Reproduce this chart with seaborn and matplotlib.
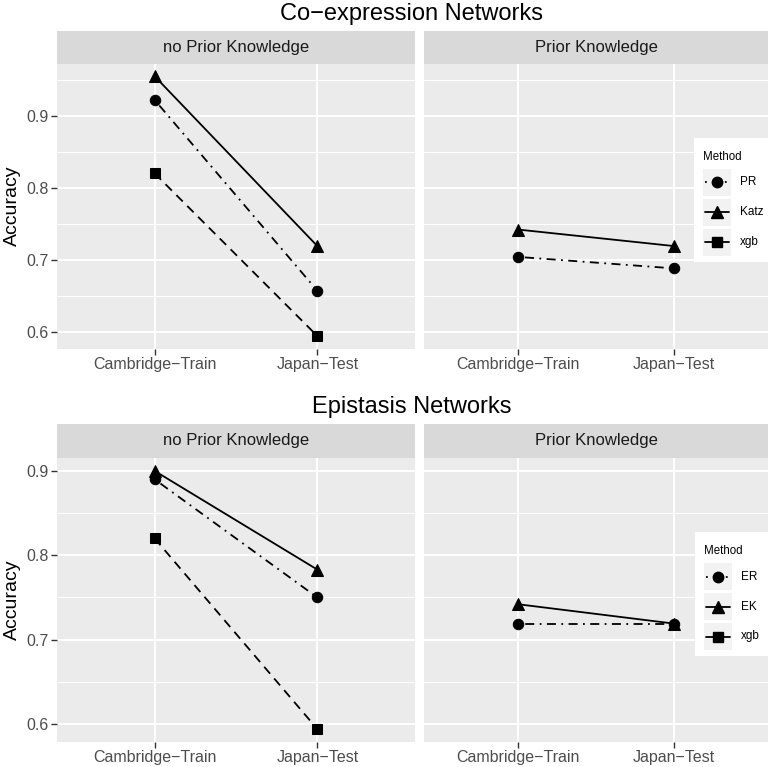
import numpy as np
import pandas as pd
import matplotlib
matplotlib.use("Agg")
import matplotlib.pyplot as plt
from matplotlib.lines import Line2D
from matplotlib.patches import Rectangle
import seaborn as sns

sns.set_theme(style="darkgrid")
plt.rcParams['font.family'] = ['Liberation Sans', 'DejaVu Sans']

# ---------------- data ----------------
datasets = ["Cambridge\u2212Train", "Japan\u2212Test"]

coexp_methods = ["PR", "Katz", "xgb"]
coexp_noprior_PR = [0.922, 0.657]
coexp_noprior_Katz = [0.955, 0.719]
coexp_noprior_xgb = [0.820, 0.594]
coexp_prior_PR = [0.704, 0.688]
coexp_prior_Katz = [0.742, 0.719]

epi_methods = ["ER", "EK", "xgb"]
epi_noprior_ER = [0.890, 0.750]
epi_noprior_EK = [0.900, 0.783]
epi_noprior_xgb = [0.820, 0.594]
epi_prior_ER = [0.719, 0.719]
epi_prior_EK = [0.742, 0.719]

facet_labels = ["no Prior Knowledge", "Prior Knowledge"]
row_titles = ["Co\u2212expression Networks", "Epistasis Networks"]
y_ticks = [0.6, 0.7, 0.8, 0.9]
y_tick_labels = ["0.6", "0.7", "0.8", "0.9"]

# ---------------- styles ----------------
W, H = 768, 767
DPI = 100
LW = 1.3
style_solid = dict(linestyle="-")
style_dotdash = dict(dashes=(1, 3, 5, 3))
style_dashed = dict(dashes=(5, 3.5))
markers = {"circle": ("o", 7.5), "tri": ("^", 9), "sq": ("s", 7)}

PANEL_BG = "#EBEBEB"
STRIP_BG = "#D9D9D9"
TICK_COL = "#4D4D4D"

fig = plt.figure(figsize=(W / DPI, H / DPI), dpi=DPI, facecolor="white")


def rect(x0, y0, x1, y1):
    return [x0 / W, 1 - y1 / H, (x1 - x0) / W, (y1 - y0) / H]


def make_df(methods, series):
    rows = []
    for m, vals in zip(methods, series):
        for d, v in zip(datasets, vals):
            rows.append({"Method": m, "Dataset": d, "Accuracy": v})
    return pd.DataFrame(rows)


def draw_panel(ax, df, specs, ylim, minor):
    ax.set_facecolor(PANEL_BG)
    for m, (mk, ls) in specs.items():
        sub = df[df["Method"] == m]
        if sub.empty:
            continue
        marker, ms = markers[mk]
        sns.lineplot(data=sub, x="Dataset", y="Accuracy", ax=ax, color="black",
                     linewidth=LW, marker=marker, markersize=ms,
                     markeredgecolor="black", markerfacecolor="black",
                     sort=False, legend=False, **ls)
    ax.set_xlim(-0.6, 1.6)
    ax.set_ylim(*ylim)
    ax.set_xticks([0, 1])
    ax.set_xticklabels(datasets)
    ax.set_yticks(y_ticks)
    ax.set_yticks(minor, minor=True)
    ax.grid(True, which="major", color="white", linewidth=1.4)
    ax.grid(True, which="minor", axis="y", color="white", linewidth=0.7)
    ax.set_axisbelow(True)
    for s in ax.spines.values():
        s.set_visible(False)
    ax.set_xlabel("")
    ax.set_ylabel("")
    ax.tick_params(axis="both", which="major", length=4, width=1.0,
                   color="#333333", labelcolor=TICK_COL, labelsize=11.5, pad=2,
                   direction="out")
    ax.tick_params(axis="both", which="minor", length=0)
    ax.tick_params(axis="x", bottom=True)
    ax.tick_params(axis="y", left=True)


def draw_strip(x0, x1, y0, y1, text):
    sax = fig.add_axes(rect(x0, y0, x1, y1))
    sax.set_facecolor(STRIP_BG)
    sax.set_xticks([])
    sax.set_yticks([])
    for s in sax.spines.values():
        s.set_visible(False)
    sax.text(0.5, 0.5, text, ha="center", va="center", fontsize=12,
             color="#1A1A1A", transform=sax.transAxes)


def draw_legend(x0, y0, x1, y1, title, methods, specs):
    lax = fig.add_axes(rect(x0, y0, x1, y1))
    lax.set_xlim(x0, x1)
    lax.set_ylim(y1, y0)
    lax.set_facecolor("white")
    lax.set_xticks([])
    lax.set_yticks([])
    lax.grid(False)
    for s in lax.spines.values():
        s.set_visible(False)
    lax.text(x0 + 9, y0 + 19, title, fontsize=8.3, color="black", va="center", ha="left")
    for i, m in enumerate(methods):
        ky0 = y0 + 31 + i * 30
        lax.add_patch(Rectangle((x0 + 9, ky0), 28, 27, facecolor="#F2F2F2",
                                edgecolor="none"))
        yc = ky0 + 13.5
        mk, ls = specs[m]
        marker, ms = markers[mk]
        kw = dict(dashes=(1, 3, 4, 3)) if "dashes" in ls else dict(linestyle="-")
        lax.add_line(Line2D([x0 + 11, x0 + 35], [yc, yc], color="black",
                            linewidth=LW, **kw))
        lax.plot([x0 + 23], [yc], marker=marker, markersize=ms,
                 color="black", linestyle="none")
        lax.text(x0 + 46, yc, m, fontsize=8.5, va="center", ha="left", color="black")


# ---------------- top row ----------------
coexp_specs_left = {"PR": ("circle", style_dotdash), "Katz": ("tri", style_solid),
                    "xgb": ("sq", style_dashed)}
coexp_specs_legend = {"PR": ("circle", style_dotdash), "Katz": ("tri", style_solid),
                      "xgb": ("sq", style_solid)}
df_c_np = make_df(coexp_methods, [coexp_noprior_PR, coexp_noprior_Katz, coexp_noprior_xgb])
df_c_p = make_df(coexp_methods[:2], [coexp_prior_PR, coexp_prior_Katz])

top_ylim = (0.576, 0.972)
top_minor = [0.65, 0.75, 0.85, 0.95]
ax1 = fig.add_axes(rect(57, 64, 415, 349))
draw_panel(ax1, df_c_np, coexp_specs_left, top_ylim, top_minor)
ax2 = fig.add_axes(rect(424, 64, 768, 349))
draw_panel(ax2, df_c_p, coexp_specs_left, top_ylim, top_minor)
ax2.set_yticklabels([])
ax2.tick_params(axis="y", left=False)
ax1.set_yticklabels(y_tick_labels)
draw_strip(57, 415, 31, 64, facet_labels[0])
draw_strip(424, 768, 31, 64, facet_labels[1])
fig.text(412 / W, 1 - 14 / H, row_titles[0], ha="center", va="center", fontsize=17,
         color="black")
fig.text(12 / W, 1 - 206 / H, "Accuracy", rotation=90, ha="center", va="center",
         fontsize=14, color="black")
draw_legend(694, 138, 768, 262, "Method", coexp_methods, coexp_specs_legend)

# ---------------- bottom row ----------------
epi_specs = {"ER": ("circle", style_dotdash), "EK": ("tri", style_solid),
             "xgb": ("sq", style_dashed)}
epi_specs_legend = {"ER": ("circle", style_dotdash), "EK": ("tri", style_solid),
                    "xgb": ("sq", style_solid)}
df_e_np = make_df(epi_methods, [epi_noprior_ER, epi_noprior_EK, epi_noprior_xgb])
df_e_p = make_df(epi_methods[:2], [epi_prior_ER, epi_prior_EK])

bot_ylim = (0.5787, 0.9153)
bot_minor = [0.65, 0.75, 0.85]
ax3 = fig.add_axes(rect(57, 458, 415, 742))
draw_panel(ax3, df_e_np, epi_specs, bot_ylim, bot_minor)
ax4 = fig.add_axes(rect(424, 458, 768, 742))
draw_panel(ax4, df_e_p, epi_specs, bot_ylim, bot_minor)
ax4.set_yticklabels([])
ax4.tick_params(axis="y", left=False)
ax3.set_yticklabels(y_tick_labels)
draw_strip(57, 415, 424, 458, facet_labels[0])
draw_strip(424, 768, 424, 458, facet_labels[1])
fig.text(412 / W, 1 - 407 / H, row_titles[1], ha="center", va="center", fontsize=17,
         color="black")
fig.text(12 / W, 1 - 600 / H, "Accuracy", rotation=90, ha="center", va="center",
         fontsize=14, color="black")
draw_legend(695, 532, 768, 656, "Method", epi_methods, epi_specs_legend)

fig.savefig("out.png", dpi=DPI, facecolor="white")
